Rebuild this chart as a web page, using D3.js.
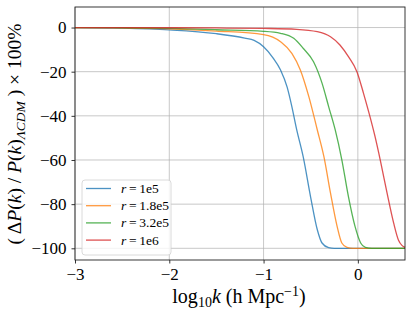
<!DOCTYPE html>
<html>
<head>
<meta charset="utf-8">
<script src="https://cdn.jsdelivr.net/npm/d3@7"></script>
<style>
  body { margin: 0; background: #fff; }
  svg text { font-family: "Liberation Serif", "Times New Roman", Times, "DejaVu Serif", serif !important; fill: #000; }
</style>
</head>
<body>
<svg id="chart" width="413" height="310"></svg>
<script>
// log10 k  vs  percent change
const r1e5 = [[-3,0],[-2.5,-0.3],[-2,-1.1],[-1.5,-2.8],[-1.2,-4.8],[-1.1,-5.8],[-1.0,-8.7],[-0.9,-13.7],[-0.82,-19.2],[-0.75,-27],[-0.7,-35.8],[-0.65,-46],[-0.58,-58.5],[-0.5,-77],[-0.43,-91.6],[-0.38,-97.6],[-0.31,-99.7],[-0.25,-100],[0.5,-100]];
const r18e5 = [[-3,0],[-2.5,-0.2],[-2,-0.6],[-1.5,-1.6],[-1.0,-3.2],[-0.82,-6.4],[-0.7,-11.7],[-0.61,-19.2],[-0.52,-31.3],[-0.43,-46.4],[-0.36,-58.5],[-0.29,-75],[-0.22,-90.1],[-0.17,-97.6],[-0.115,-99.6],[-0.05,-100],[0.5,-100]];
const r32e5 = [[-3,0],[-2.5,-0.1],[-2,-0.4],[-1.5,-1.0],[-1,-1.7],[-0.82,-2.6],[-0.68,-4.9],[-0.58,-9.4],[-0.47,-15.5],[-0.38,-25.2],[-0.31,-35.8],[-0.24,-46.4],[-0.17,-59.9],[-0.1,-76.6],[-0.03,-90.1],[0.03,-97.6],[0.08,-99.6],[0.15,-100],[0.5,-100]];
const r1e6 = [[-3,0],[-2,-0.1],[-1.5,-0.2],[-1,-0.4],[-0.65,-0.8],[-0.43,-1.9],[-0.29,-4.2],[-0.19,-7.9],[-0.1,-13.2],[-0.01,-20],[0.06,-29.8],[0.12,-39],[0.18,-49],[0.24,-60.5],[0.31,-75],[0.38,-88.6],[0.43,-96.2],[0.47,-98.8],[0.5,-99.6]];

const labels = ["1e5", "1.8e5", "3.2e5", "1e6"];
const colors = ["#1f77b4", "#ff7f0e", "#2ca02c", "#d62728"];
const xTicks = [-3, -2, -1, 0];
const yTicks = [0, -20, -40, -60, -80, -100];

const series = [r1e5, r18e5, r32e5, r1e6];

const svg = d3.select("#chart");
const pLeft = 75, pRight = 405, pTop = 7, pBottom = 260;

const x = d3.scaleLinear().domain([-3, 0.5]).range([pLeft, pRight]);
const y = d3.scaleLinear().domain([-105.3, 9.3]).range([pBottom, pTop]);

// grid
svg.append("g").selectAll("line").data(xTicks).enter().append("line")
  .attr("x1", d => x(d)).attr("x2", d => x(d))
  .attr("y1", pTop).attr("y2", pBottom)
  .attr("stroke", "#b0b0b0").attr("stroke-opacity", 0.7).attr("stroke-width", 1);
svg.append("g").selectAll("line").data(yTicks).enter().append("line")
  .attr("x1", pLeft).attr("x2", pRight)
  .attr("y1", d => y(d)).attr("y2", d => y(d))
  .attr("stroke", "#b0b0b0").attr("stroke-opacity", 0.7).attr("stroke-width", 1);

// curves
let line = d3.line().x(d => x(d[0])).y(d => y(d[1])).curve(d3.curveMonotoneX);
svg.append("g").selectAll("path").data(series).enter().append("path")
  .attr("d", line)
  .attr("fill", "none")
  .attr("stroke", (d, i) => colors[i])
  .attr("stroke-opacity", 0.8)
  .attr("stroke-width", 1.3);

// axes
let fmt = d => d3.format("d")(d).replace("-", "\u2212");
let gx = svg.append("g").attr("transform", `translate(0,${pBottom})`)
  .call(d3.axisBottom(x).tickValues(xTicks).tickSize(3.5).tickPadding(4.4).tickFormat(fmt));
let gy = svg.append("g").attr("transform", `translate(${pLeft},0)`)
  .call(d3.axisLeft(y).tickValues(yTicks).tickSize(3.5).tickPadding(5).tickFormat(fmt));
[gx, gy].forEach(g => {
  g.attr("font-family", null).attr("font-size", null);
  g.select(".domain").remove();
  g.selectAll("text").style("font-size", "17px");
  g.selectAll("line").attr("stroke", "#000").attr("stroke-width", 0.8);
});

// frame
svg.append("rect")
  .attr("x", pLeft).attr("y", pTop)
  .attr("width", pRight - pLeft).attr("height", pBottom - pTop)
  .attr("fill", "none").attr("stroke", "#222").attr("stroke-width", 0.9);

// x label
let xl = svg.append("text").attr("x", 239).attr("y", 303)
  .attr("text-anchor", "middle").style("font-size", "20px");
xl.append("tspan").text("log");
xl.append("tspan").attr("dy", 4).style("font-size", "14px").text("10");
xl.append("tspan").attr("dy", -4).style("font-style", "italic").text("k");
xl.append("tspan").text(" (h Mpc");
xl.append("tspan").attr("dy", -7).style("font-size", "14px").text("\u22121");
xl.append("tspan").attr("dy", 7).text(")");

// y label
let yl = svg.append("text")
  .attr("transform", "translate(21,134) rotate(-90)")
  .attr("text-anchor", "middle").style("font-size", "19.5px");
yl.append("tspan").text("( \u0394");
yl.append("tspan").style("font-style", "italic").text("P");
yl.append("tspan").text("(");
yl.append("tspan").style("font-style", "italic").text("k");
yl.append("tspan").text(") / ");
yl.append("tspan").style("font-style", "italic").text("P");
yl.append("tspan").text("(");
yl.append("tspan").style("font-style", "italic").text("k");
yl.append("tspan").text(")");
yl.append("tspan").attr("dy", 4).style("font-size", "13.5px").style("font-style", "italic").text("\u039BCDM");
yl.append("tspan").attr("dy", -4).text(" ) \u00D7 100%");

// legend
let lg = svg.append("g").attr("transform", "translate(82,180)");
lg.append("rect").attr("width", 89).attr("height", 75).attr("rx", 3)
  .attr("fill", "#fff").attr("fill-opacity", 0.8)
  .attr("stroke", "#d0d0d0").attr("stroke-width", 0.8);
let item = lg.selectAll(".item").data(labels).enter().append("g")
  .attr("class", "item")
  .attr("transform", (d, i) => `translate(0,${8.5 + i * 17.2})`);
item.append("line").attr("x1", 4).attr("x2", 29)
  .attr("stroke", (d, i) => colors[i]).attr("stroke-opacity", 0.8).attr("stroke-width", 1.3);
let lt = item.append("text").attr("x", 39).attr("y", 4.5).style("font-size", "13.5px");
lt.append("tspan").style("font-style", "italic").text("r");
lt.append("tspan").text(d => "\u2009=\u2009" + d);
</script>
</body>
</html>
